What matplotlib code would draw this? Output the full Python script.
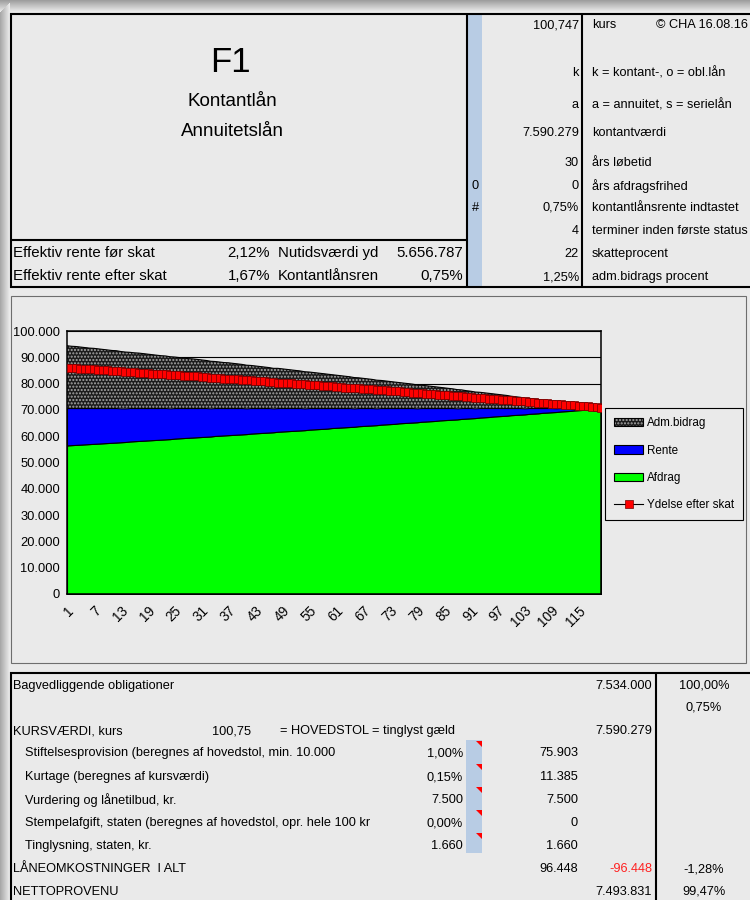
import numpy as np
import matplotlib
matplotlib.use('Agg')
import matplotlib.pyplot as plt
from matplotlib import font_manager
from matplotlib.patches import Rectangle, Polygon, Patch
from matplotlib.lines import Line2D
from matplotlib.ticker import FuncFormatter

# ---- chart data: quarterly terms, values in thousand kr ----
terms = list(range(1, 121))

afdrag_t = [
    56.5, 56.6, 56.7, 56.8, 56.9, 57.0, 57.1, 57.2, 57.3, 57.4,
    57.5, 57.6, 57.7, 57.8, 58.0, 58.1, 58.2, 58.3, 58.4, 58.5,
    58.6, 58.7, 58.8, 58.9, 59.1, 59.2, 59.3, 59.4, 59.5, 59.6,
    59.7, 59.8, 59.9, 60.1, 60.2, 60.3, 60.4, 60.5, 60.6, 60.7,
    60.8, 61.0, 61.1, 61.2, 61.3, 61.4, 61.5, 61.7, 61.8, 61.9,
    62.0, 62.1, 62.2, 62.3, 62.5, 62.6, 62.7, 62.8, 62.9, 63.1,
    63.2, 63.3, 63.4, 63.5, 63.6, 63.8, 63.9, 64.0, 64.1, 64.2,
    64.4, 64.5, 64.6, 64.7, 64.9, 65.0, 65.1, 65.2, 65.3, 65.5,
    65.6, 65.7, 65.8, 66.0, 66.1, 66.2, 66.3, 66.4, 66.6, 66.7,
    66.8, 66.9, 67.1, 67.2, 67.3, 67.5, 67.6, 67.7, 67.8, 68.0,
    68.1, 68.2, 68.3, 68.5, 68.6, 68.7, 68.9, 69.0, 69.1, 69.2,
    69.4, 69.5, 69.6, 69.8, 69.9, 70.0, 70.2, 70.3, 70.4, 70.6,
]
rente_t = [
    14.2, 14.1, 14.0, 13.9, 13.8, 13.7, 13.6, 13.5, 13.4, 13.3,
    13.2, 13.1, 12.9, 12.8, 12.7, 12.6, 12.5, 12.4, 12.3, 12.2,
    12.1, 12.0, 11.9, 11.7, 11.6, 11.5, 11.4, 11.3, 11.2, 11.1,
    11.0, 10.9, 10.7, 10.6, 10.5, 10.4, 10.3, 10.2, 10.1, 10.0,
    9.8, 9.7, 9.6, 9.5, 9.4, 9.3, 9.1, 9.0, 8.9, 8.8,
    8.7, 8.6, 8.5, 8.3, 8.2, 8.1, 8.0, 7.9, 7.8, 7.6,
    7.5, 7.4, 7.3, 7.2, 7.0, 6.9, 6.8, 6.7, 6.6, 6.4,
    6.3, 6.2, 6.1, 6.0, 5.8, 5.7, 5.6, 5.5, 5.3, 5.2,
    5.1, 5.0, 4.9, 4.7, 4.6, 4.5, 4.4, 4.2, 4.1, 4.0,
    3.9, 3.7, 3.6, 3.5, 3.4, 3.2, 3.1, 3.0, 2.9, 2.7,
    2.6, 2.5, 2.3, 2.2, 2.1, 2.0, 1.8, 1.7, 1.6, 1.4,
    1.3, 1.2, 1.1, 0.9, 0.8, 0.7, 0.5, 0.4, 0.3, 0.1,
]
adm_bidrag_t = [
    23.7, 23.5, 23.4, 23.2, 23.0, 22.8, 22.7, 22.5, 22.3, 22.1,
    21.9, 21.8, 21.6, 21.4, 21.2, 21.0, 20.9, 20.7, 20.5, 20.3,
    20.1, 19.9, 19.8, 19.6, 19.4, 19.2, 19.0, 18.8, 18.7, 18.5,
    18.3, 18.1, 17.9, 17.7, 17.5, 17.3, 17.2, 17.0, 16.8, 16.6,
    16.4, 16.2, 16.0, 15.8, 15.6, 15.4, 15.2, 15.1, 14.9, 14.7,
    14.5, 14.3, 14.1, 13.9, 13.7, 13.5, 13.3, 13.1, 12.9, 12.7,
    12.5, 12.3, 12.1, 11.9, 11.7, 11.5, 11.3, 11.1, 10.9, 10.7,
    10.5, 10.3, 10.1, 9.9, 9.7, 9.5, 9.3, 9.1, 8.9, 8.7,
    8.5, 8.3, 8.1, 7.9, 7.7, 7.5, 7.3, 7.1, 6.9, 6.6,
    6.4, 6.2, 6.0, 5.8, 5.6, 5.4, 5.2, 5.0, 4.8, 4.5,
    4.3, 4.1, 3.9, 3.7, 3.5, 3.3, 3.0, 2.8, 2.6, 2.4,
    2.2, 2.0, 1.8, 1.5, 1.3, 1.1, 0.9, 0.7, 0.4, 0.2,
]
ydelse_efter_skat_t = [
    86.1, 85.9, 85.8, 85.7, 85.6, 85.5, 85.4, 85.2, 85.1, 85.0,
    84.9, 84.8, 84.7, 84.6, 84.4, 84.3, 84.2, 84.1, 84.0, 83.8,
    83.7, 83.6, 83.5, 83.4, 83.3, 83.1, 83.0, 82.9, 82.8, 82.7,
    82.5, 82.4, 82.3, 82.2, 82.0, 81.9, 81.8, 81.7, 81.6, 81.4,
    81.3, 81.2, 81.1, 80.9, 80.8, 80.7, 80.6, 80.4, 80.3, 80.2,
    80.1, 79.9, 79.8, 79.7, 79.6, 79.4, 79.3, 79.2, 79.1, 78.9,
    78.8, 78.7, 78.5, 78.4, 78.3, 78.2, 78.0, 77.9, 77.8, 77.6,
    77.5, 77.4, 77.3, 77.1, 77.0, 76.9, 76.7, 76.6, 76.5, 76.3,
    76.2, 76.1, 75.9, 75.8, 75.7, 75.5, 75.4, 75.3, 75.1, 75.0,
    74.9, 74.7, 74.6, 74.5, 74.3, 74.2, 74.0, 73.9, 73.8, 73.6,
    73.5, 73.4, 73.2, 73.1, 72.9, 72.8, 72.7, 72.5, 72.4, 72.2,
    72.1, 72.0, 71.8, 71.7, 71.5, 71.4, 71.3, 71.1, 71.0, 70.8,
]
series_names = ['Adm.bidrag', 'Rente', 'Afdrag', 'Ydelse efter skat']

# ---- sheet texts ----
title = 'F1'
subtitles = ['Kontantlån', 'Annuitetslån']
rate_labels = ['Effektiv rente før skat', 'Effektiv rente efter skat']
rate_values = ['2,12%', '1,67%']
rate_labels2 = ['Nutidsværdi yd', 'Kontantlånsren']
rate_values2 = ['5.656.787', '0,75%']

param_values = ['100,747', 'k', 'a', '7.590.279', '30', '0', '0,75%', '4', '22', '1,25%']
param_labels = ['kurs', 'k = kontant-, o = obl.lån', 'a = annuitet, s = serielån',
                'kontantværdi', 'års løbetid', 'års afdragsfrihed',
                'kontantlånsrente indtastet', 'terminer inden første status',
                'skatteprocent', 'adm.bidrags procent']
param_flags = ['', '', '', '', '', '0', '#', '', '', '']
copyright_txt = '© CHA 16.08.16'

cost_labels = ['Stiftelsesprovision (beregnes af hovedstol, min. 10.000',
               'Kurtage (beregnes af kursværdi)',
               'Vurdering og lånetilbud, kr.',
               'Stempelafgift, staten (beregnes af hovedstol, opr. hele 100 kr',
               'Tinglysning, staten, kr.']
cost_rates = ['1,00%', '0,15%', '7.500', '0,00%', '1.660']
cost_amounts = ['75.903', '11.385', '7.500', '0', '1.660']

BG = '#eaeaea'
BLUE_CELL = '#b8cce4'

names = {f.name for f in font_manager.fontManager.ttflist}
if 'Liberation Sans Narrow' in names:
    FAM, SQ = 'Liberation Sans Narrow', 1 / 0.82
else:
    FAM, SQ = 'Liberation Sans', 1.0
FAM_AX = 'Liberation Sans'


def fs(pt):
    return pt * SQ


def hline(ax, y, x0, x1, lw=1.5, color='black'):
    ax.plot([x0, x1], [y, y], color=color, lw=lw, solid_capstyle='butt')


def vline(ax, x, y0, y1, lw=1.5, color='black'):
    ax.plot([x, x], [y0, y1], color=color, lw=lw, solid_capstyle='butt')


def txt(ax, x, y, s, ha='left', size=9.2, color='black', fam=None):
    ax.text(x, y, s, ha=ha, va='center', fontsize=fs(size), color=color,
            family=fam or FAM)


def draw_sheet(page):
    # drop shadow at top and left edge
    for i in range(12):
        g = 0.62 + (0.917 - 0.62) * i / 11
        page.add_patch(Rectangle((0, i), 750, 1.05, color=str(g), lw=0))
    for i in range(10):
        g = 0.66 + (0.917 - 0.66) * i / 9
        page.add_patch(Rectangle((i, 12 - i), 1.05, 900, color=str(g), lw=0))

    # top block
    page.add_patch(Rectangle((467, 14), 15, 273, color=BLUE_CELL, lw=0))
    hline(page, 13.5, 10, 750)
    hline(page, 287, 10, 750)
    hline(page, 240, 11, 467)
    vline(page, 11, 13, 288)
    vline(page, 467, 13, 288)
    vline(page, 582, 13, 288)

    txt(page, 230, 62, title, ha='center', size=25)
    txt(page, 232, 102, subtitles[0], ha='center', size=13.5)
    txt(page, 232, 131, subtitles[1], ha='center', size=13.5)
    for i, y in enumerate([253, 276]):
        txt(page, 13, y, rate_labels[i], size=10.8)
        txt(page, 270, y, rate_values[i], ha='right', size=10.8)
        txt(page, 278, y, rate_labels2[i], size=10.8)
        txt(page, 463, y, rate_values2[i], ha='right', size=10.8)

    param_y = [25, 73, 105, 133, 163, 186, 208, 231, 254, 277]
    for i, y in enumerate(param_y):
        txt(page, 579, y, param_values[i], ha='right')
        txt(page, 592, y, param_labels[i])
        if param_flags[i]:
            txt(page, 472, y, param_flags[i])
    txt(page, 748, 25, copyright_txt, ha='right')

    # chart panel frame
    page.add_patch(Rectangle((10.5, 295.5), 735, 367, fill=False,
                             edgecolor='#6e6e6e', lw=0.8))

    # bottom block
    page.add_patch(Rectangle((466, 740), 16, 113, color=BLUE_CELL, lw=0))
    for y in [741, 764, 787, 810, 833]:
        page.add_patch(Polygon([(476, y), (482, y), (482, y + 6)], closed=True,
                               color='red', lw=0))
    hline(page, 673, 10, 750)
    vline(page, 11, 672, 900)
    vline(page, 656, 672, 900)

    txt(page, 13, 686, 'Bagvedliggende obligationer')
    txt(page, 652, 686, '7.534.000', ha='right')
    txt(page, 704, 686, '100,00%', ha='center')
    txt(page, 704, 708, '0,75%', ha='center')
    txt(page, 13, 731, 'KURSVÆRDI, kurs')
    txt(page, 251, 731, '100,75', ha='right')
    txt(page, 280, 731, '= HOVEDSTOL = tinglyst gæld')
    txt(page, 652, 731, '7.590.279', ha='right')
    for i, y in enumerate([753, 777, 800, 823, 846]):
        txt(page, 25, y, cost_labels[i])
        txt(page, 463, y, cost_rates[i], ha='right')
        txt(page, 578, y, cost_amounts[i], ha='right')
    txt(page, 13, 869, 'LÅNEOMKOSTNINGER  I ALT')
    txt(page, 578, 869, '96.448', ha='right')
    txt(page, 652, 869, '-96.448', ha='right', color='#ff2020')
    txt(page, 704, 869, '-1,28%', ha='center')
    txt(page, 13, 892, 'NETTOPROVENU')
    txt(page, 652, 892, '7.493.831', ha='right')
    txt(page, 704, 892, '99,47%', ha='center')


def draw_chart(fig):
    ax = fig.add_axes([67 / 750, 306 / 900, 534 / 750, 263 / 900])
    ax.patch.set_alpha(0)

    afdrag = np.array(afdrag_t) * 1000
    rente = np.array(rente_t) * 1000
    adm = np.array(adm_bidrag_t) * 1000
    ydelse = np.array(ydelse_efter_skat_t) * 1000
    lvl1 = afdrag
    lvl2 = afdrag + rente
    lvl3 = lvl2 + adm

    ax.fill_between(terms, 0, lvl1, facecolor='#00ff00', edgecolor='black', lw=0.8, zorder=2)
    ax.fill_between(terms, lvl1, lvl2, facecolor='#0000ff', edgecolor='black', lw=0.8, zorder=2)
    ax.fill_between(terms, lvl2, lvl3, facecolor='#1c1c1c', edgecolor='#a8a8a8',
                    hatch='.....', lw=0, zorder=2)
    ax.plot(terms, lvl3, color='black', lw=0.8, zorder=3)
    ax.plot(terms, ydelse, color='black', lw=0.8, marker='s', ms=6,
            mfc='#ff0000', mec='#700000', mew=0.5, zorder=4)

    ax.set_xlim(1, 120)
    ax.set_ylim(0, 100000)
    ax.set_yticks(range(0, 100001, 10000))
    ax.yaxis.set_major_formatter(FuncFormatter(lambda v, p: f'{v:,.0f}'.replace(',', '.')))
    ax.yaxis.grid(True, color='black', lw=0.8)
    ax.set_axisbelow(True)

    ax.set_xticks(terms)
    ax.set_xticklabels([str(t) if (t - 1) % 6 == 0 else '' for t in terms],
                       rotation=45, ha='right', va='top', rotation_mode='anchor')
    ax.tick_params(axis='x', direction='in', length=3, width=0.7, pad=7, labelsize=9.8)
    ax.tick_params(axis='y', length=0, pad=5, labelsize=9.3)
    for lab in ax.get_xticklabels() + ax.get_yticklabels():
        lab.set_family(FAM_AX)
    for sp in ax.spines.values():
        sp.set_color('black')
        sp.set_linewidth(1.1)

    handles = [
        (Patch(facecolor='#1c1c1c', edgecolor='#a8a8a8', hatch='.....', lw=0),
         Patch(facecolor='none', edgecolor='black', lw=0.8)),
        Patch(facecolor='#0000ff', edgecolor='black', lw=0.8),
        Patch(facecolor='#00ff00', edgecolor='black', lw=0.8),
        Line2D([], [], color='black', lw=0.8, marker='s', ms=6,
               mfc='#ff0000', mec='#700000', mew=0.5),
    ]
    leg = fig.legend(handles, series_names, loc='upper left',
                     bbox_to_anchor=(605 / 750, 1 - 408 / 900),
                     bbox_transform=fig.transFigure, frameon=True, fancybox=False,
                     edgecolor='black', facecolor=BG, framealpha=1,
                     prop={'family': FAM, 'size': fs(8.4)},
                     handlelength=2.45, handleheight=0.7, handletextpad=0.35,
                     labelspacing=1.3, borderpad=0.8, borderaxespad=0)
    leg.get_frame().set_linewidth(0.8)
    return ax


def main():
    fig = plt.figure(figsize=(7.5, 9), dpi=100, facecolor=BG)
    page = fig.add_axes([0, 0, 1, 1])
    page.set_xlim(0, 750)
    page.set_ylim(900, 0)
    page.axis('off')
    draw_sheet(page)
    draw_chart(fig)
    fig.savefig('out.png', dpi=100, facecolor=BG)
    plt.close(fig)


if __name__ == "__main__":
    main()
